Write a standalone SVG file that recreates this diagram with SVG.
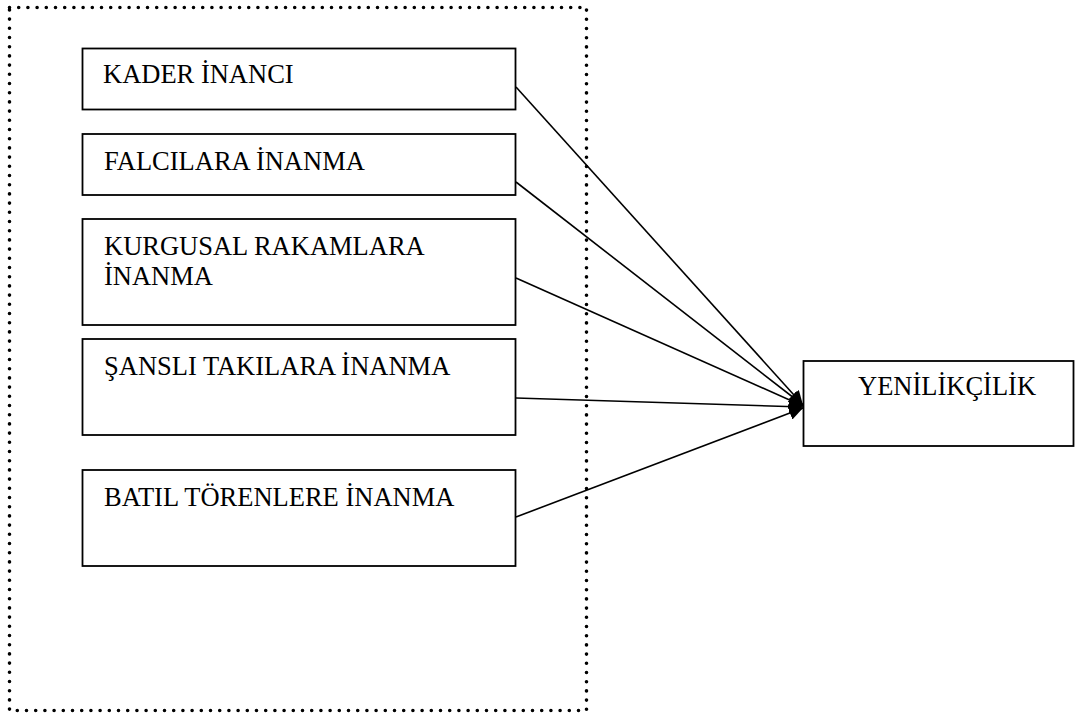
<svg xmlns="http://www.w3.org/2000/svg" width="1087" height="718" viewBox="0 0 1087 718">
<style>
.box{fill:#fff;stroke:#000;stroke-width:1.8}
.lbl{font-family:"Liberation Serif","Times New Roman",serif;font-size:26.5px;fill:#000}
.con{stroke:#000;stroke-width:1.6;fill:none;marker-end:url(#ah)}
.frame{fill:none;stroke:#000;stroke-width:3.6;stroke-linecap:round;stroke-dasharray:0 9.2}
</style>
<defs>
<marker id="ah" markerUnits="userSpaceOnUse" markerWidth="16" markerHeight="14" refX="14" refY="7" orient="auto">
<path d="M0,0 L14,7 L0,14 Z" fill="#000"/>
</marker>
</defs>
<rect class="frame" x="9.5" y="7.5" width="577" height="703"/>
<g id="n1"><rect class="box" x="82.5" y="48.5" width="433" height="61"/><text class="lbl" x="103" y="83">KADER İNANCI</text></g>
<g id="n2"><rect class="box" x="82.5" y="134" width="433" height="61"/><text class="lbl" x="104" y="170">FALCILARA İNANMA</text></g>
<g id="n3"><rect class="box" x="82.5" y="219" width="433" height="106"/><text class="lbl" x="104" y="255">KURGUSAL RAKAMLARA</text><text class="lbl" x="104" y="285">İNANMA</text></g>
<g id="n4"><rect class="box" x="82.5" y="339" width="433" height="96"/><text class="lbl" x="104" y="375">ŞANSLI TAKILARA İNANMA</text></g>
<g id="n5"><rect class="box" x="82.5" y="470" width="433" height="96"/><text class="lbl" x="104" y="506">BATIL TÖRENLERE İNANMA</text></g>
<g id="n6"><rect class="box" x="803.5" y="361" width="270" height="85"/><text class="lbl" x="858" y="395">YENİLİKÇİLİK</text></g>
<g id="connectors">
<line class="con" x1="516" y1="87" x2="803" y2="405"/>
<line class="con" x1="516" y1="182" x2="803" y2="405"/>
<line class="con" x1="516" y1="278" x2="803" y2="406"/>
<line class="con" x1="516" y1="398" x2="803" y2="407"/>
<line class="con" x1="516" y1="517" x2="803" y2="408"/>
</g>
</svg>
